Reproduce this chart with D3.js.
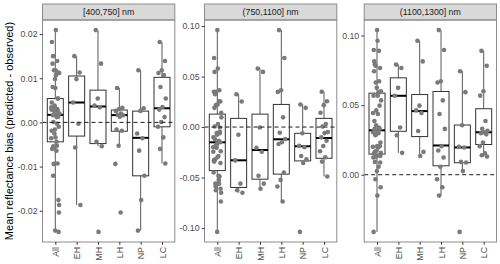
<!DOCTYPE html>
<html>
<head>
<meta charset="utf-8">
<script src="https://cdn.jsdelivr.net/npm/d3@7"></script>
<style>
  body { margin: 0; background: #fff; }
  svg { display: block; }
  text { font-family: "Liberation Sans", Arial, sans-serif; }
</style>
</head>
<body>
<svg width="500" height="264"></svg>
<script>
// categories on the x axis ("All" is the union of the other groups)
const categories = ["All", "EH", "MH", "LH", "NP", "LC"];
const groups = ["EH", "MH", "LH", "NP", "LC"];
const panelNames = ["[400,750] nm", "(750,1100] nm", "(1100,1300] nm"];

// y tick values per panel
const ticks1 = [-0.02, -0.01, 0.00, 0.01, 0.02];
const ticks2 = [-0.10, -0.05, 0.00, 0.05, 0.10];
const ticks3 = [0.00, 0.05, 0.10];

// observed points, per panel per group
const p1EH = [0.0150, 0.0113, 0.0098, 0.0045, -0.0003, -0.0057, -0.0187];
const p1MH = [0.0209, 0.0133, 0.0054, 0.0038, 0.0034, -0.0044, -0.0054, -0.0248];
const p1LH = [0.0078, 0.0033, 0.0030, 0.0026, 0.0020, 0.0017, 0.0016, 0.0013, -0.0016, -0.0019, -0.0053, -0.0094, -0.0204];
const p1NP = [0.0118, 0.0032, 0.0026, -0.0025, -0.0036, -0.0064, -0.0121, -0.0176, -0.0245];
const p1LC = [0.0182, 0.0139, 0.0118, 0.0112, 0.0107, 0.0080, 0.0054, 0.0035, 0.0029, 0.0012, 0.0001, -0.0010, -0.0034, -0.0060, -0.0093];

const p2EH = [0.0325, 0.0253, -0.0076, -0.0330, -0.0560, -0.0625, -0.0650];
const p2MH = [0.0579, 0.0546, -0.0005, -0.0205, -0.0245, -0.0483, -0.0560, -0.0611];
const p2LH = [0.0960, 0.0684, 0.0365, 0.0348, 0.0096, -0.0056, -0.0118, -0.0151, -0.0168, -0.0450, -0.0523, -0.0589, -0.0737];
const p2NP = [0.0224, 0.0190, -0.0062, -0.0185, -0.0200, -0.0286, -0.0320, -0.0356, -0.1038];
const p2LC = [0.0350, 0.0256, 0.0217, 0.0141, 0.0030, 0.0005, -0.0050, -0.0060, -0.0102, -0.0135, -0.0187, -0.0240, -0.0299, -0.0342, -0.0490];

const p3EH = [0.0791, 0.0767, 0.0624, 0.0567, 0.0339, 0.0284, 0.0157];
const p3MH = [0.0962, 0.0814, 0.0496, 0.0462, 0.0443, 0.0314, 0.0164, 0.0134];
const p3LH = [0.1039, 0.0896, 0.0671, 0.0662, 0.0534, 0.0436, 0.0329, 0.0205, 0.0174, 0.0124, 0.0057, -0.0033, -0.0090, -0.0150];
const p3NP = [0.0743, 0.0593, 0.0355, 0.0200, 0.0195, 0.0092, 0.0088, 0.0026, -0.0411];
const p3LC = [0.0890, 0.0782, 0.0600, 0.0568, 0.0386, 0.0330, 0.0315, 0.0305, 0.0298, 0.0290, 0.0231, 0.0205, 0.0153, 0.0140, 0.0130];

// box stats [lower whisker, q1, median, q3, upper whisker] in category order
const p1Box = [
  [-0.0248, -0.0044, 0.0017, 0.0054, 0.0209],
  [-0.0187, -0.0031, 0.0045, 0.0105, 0.0150],
  [-0.0054, -0.0048, 0.0036, 0.0073, 0.0209],
  [-0.0053, -0.0020, 0.00165, 0.0028, 0.0078],
  [-0.0245, -0.0121, -0.0035, 0.00255, 0.0118],
  [-0.0093, -0.0010, 0.0032, 0.0102, 0.0182]
];
const p2Box = [
  [-0.1038, -0.0431, -0.0151, 0.0128, 0.0960],
  [-0.0650, -0.0598, -0.0329, 0.0086, 0.0325],
  [-0.0611, -0.0516, -0.0227, 0.0128, 0.0579],
  [-0.0737, -0.0466, -0.0121, 0.0224, 0.0960],
  [-0.0356, -0.0335, -0.0190, -0.0062, 0.0224],
  [-0.0490, -0.0309, -0.0108, 0.0086, 0.0350]
];
const p3Box = [
  [-0.0411, 0.0148, 0.0319, 0.0586, 0.1039],
  [0.0157, 0.0312, 0.0567, 0.0696, 0.0791],
  [0.0134, 0.0274, 0.0457, 0.0576, 0.0962],
  [-0.0150, 0.0064, 0.0210, 0.0598, 0.1039],
  [0.0026, 0.0086, 0.0196, 0.0357, 0.0743],
  [0.0130, 0.0217, 0.0305, 0.0474, 0.0890]
];

const panels = [
  { name: panelNames[0], ticks: ticks1, box: p1Box, pts: [p1EH, p1MH, p1LH, p1NP, p1LC] },
  { name: panelNames[1], ticks: ticks2, box: p2Box, pts: [p2EH, p2MH, p2LH, p2NP, p2LC] },
  { name: panelNames[2], ticks: ticks3, box: p3Box, pts: [p3EH, p3MH, p3LH, p3NP, p3LC] }
];

const svg = d3.select("svg");
svg.append("rect").attr("width", 500).attr("height", 264).attr("fill", "#fff");

const panelLeft = [42.5, 204.5, 364.2];
const panelW = 132.3;
const plotTop = 20, plotBottom = 242, stripTop = 4;
const borderCol = "#8c8c8c";
const fmt = v => d3.format(".2f")(v).replace("\u2212", "-");

// deterministic spread in place of geom_jitter
function jitter(i) {
  return (((i + 1) * 0.6180339887) % 1 - 0.5) * 0.4;
}

panels.forEach((p, pi) => {
  const left = panelLeft[pi];
  const right = left + panelW;

  // "All" is every point of the other groups
  const rows = [];
  groups.forEach((g, gi) => p.pts[gi].forEach(v => rows.push({ cat: g, v })));
  const allRows = rows.map(r => ({ cat: "All", v: r.v }));
  const points = allRows.concat(rows);

  const ext = d3.extent(points, d => d.v);
  const pad = (ext[1] - ext[0]) * 0.05;

  const x = d3.scalePoint().domain(categories).range([left, right]).padding(0.6);
  const y = d3.scaleLinear().domain([ext[0] - pad, ext[1] + pad]).range([plotBottom, plotTop]);
  const bw = x.step() * 0.75;

  const g = svg.append("g");

  // strip
  g.append("rect")
    .attr("x", left).attr("y", stripTop)
    .attr("width", panelW).attr("height", plotTop - stripTop)
    .attr("fill", "#d9d9d9").attr("stroke", borderCol).attr("stroke-width", 1);
  g.append("text")
    .attr("x", (left + right) / 2).attr("y", (stripTop + plotTop) / 2)
    .attr("dy", "0.35em").attr("text-anchor", "middle")
    .attr("font-size", "8.8px").attr("fill", "#1a1a1a")
    .text(p.name);

  // boxes
  const boxes = g.selectAll(".box")
    .data(p.box.map((s, i) => ({ cat: categories[i], s })))
    .join("g").attr("class", "box");

  boxes.append("line")
    .attr("x1", d => x(d.cat)).attr("x2", d => x(d.cat))
    .attr("y1", d => y(d.s[0])).attr("y2", d => y(d.s[1]))
    .attr("stroke", "#595959").attr("stroke-width", 1);
  boxes.append("line")
    .attr("x1", d => x(d.cat)).attr("x2", d => x(d.cat))
    .attr("y1", d => y(d.s[3])).attr("y2", d => y(d.s[4]))
    .attr("stroke", "#595959").attr("stroke-width", 1);
  boxes.append("rect")
    .attr("x", d => x(d.cat) - bw / 2).attr("width", bw)
    .attr("y", d => y(d.s[3])).attr("height", d => y(d.s[1]) - y(d.s[3]))
    .attr("fill", "#fff").attr("stroke", "#333").attr("stroke-width", 1);
  boxes.append("line")
    .attr("x1", d => x(d.cat) - bw / 2).attr("x2", d => x(d.cat) + bw / 2)
    .attr("y1", d => y(d.s[2])).attr("y2", d => y(d.s[2]))
    .attr("stroke", "#000").attr("stroke-width", 2);

  // jittered points
  const counters = {};
  g.selectAll(".pt")
    .data(points)
    .join("circle")
    .attr("class", "pt")
    .attr("cx", d => {
      counters[d.cat] = (counters[d.cat] || 0) + 1;
      return x(d.cat) + jitter(counters[d.cat]) * x.step();
    })
    .attr("cy", d => y(d.v))
    .attr("r", 2.3)
    .attr("fill", "#7a7a7a");

  // zero reference
  g.append("line")
    .attr("x1", left).attr("x2", right)
    .attr("y1", y(0)).attr("y2", y(0))
    .attr("stroke", "#1a1a1a").attr("stroke-width", 1)
    .attr("stroke-dasharray", "4,3");

  // panel border
  g.append("rect")
    .attr("x", left).attr("y", plotTop)
    .attr("width", panelW).attr("height", plotBottom - plotTop)
    .attr("fill", "none").attr("stroke", borderCol).attr("stroke-width", 1);

  // y axis
  const ya = g.append("g")
    .attr("transform", `translate(${left},0)`)
    .call(d3.axisLeft(y).tickValues(p.ticks).tickFormat(fmt).tickSize(2.75).tickPadding(2.2));
  ya.select(".domain").remove();
  ya.selectAll(".tick line").attr("stroke", "#333");
  ya.selectAll(".tick text").attr("fill", "#4d4d4d").attr("font-size", "8.8px")
    .attr("font-family", "Liberation Sans, Arial, sans-serif");

  // x axis
  const xa = g.append("g")
    .attr("transform", `translate(0,${plotBottom})`)
    .call(d3.axisBottom(x).tickSize(2.75).tickPadding(2.2));
  xa.select(".domain").remove();
  xa.selectAll(".tick line").attr("stroke", "#333");
  xa.selectAll(".tick text")
    .attr("fill", "#4d4d4d").attr("font-size", "8.8px")
    .attr("font-family", "Liberation Sans, Arial, sans-serif")
    .attr("transform", "rotate(-90)")
    .attr("text-anchor", "end")
    .attr("x", -5).attr("y", 0).attr("dy", "0.35em");
});

// y axis title
svg.append("text")
  .attr("transform", `translate(9,${(plotTop + plotBottom) / 2}) rotate(-90)`)
  .attr("text-anchor", "middle").attr("dy", "0.35em")
  .attr("font-size", "11px").attr("fill", "#000")
  .text("Mean reflectance bias (predicted - observed)");
</script>
</body>
</html>
